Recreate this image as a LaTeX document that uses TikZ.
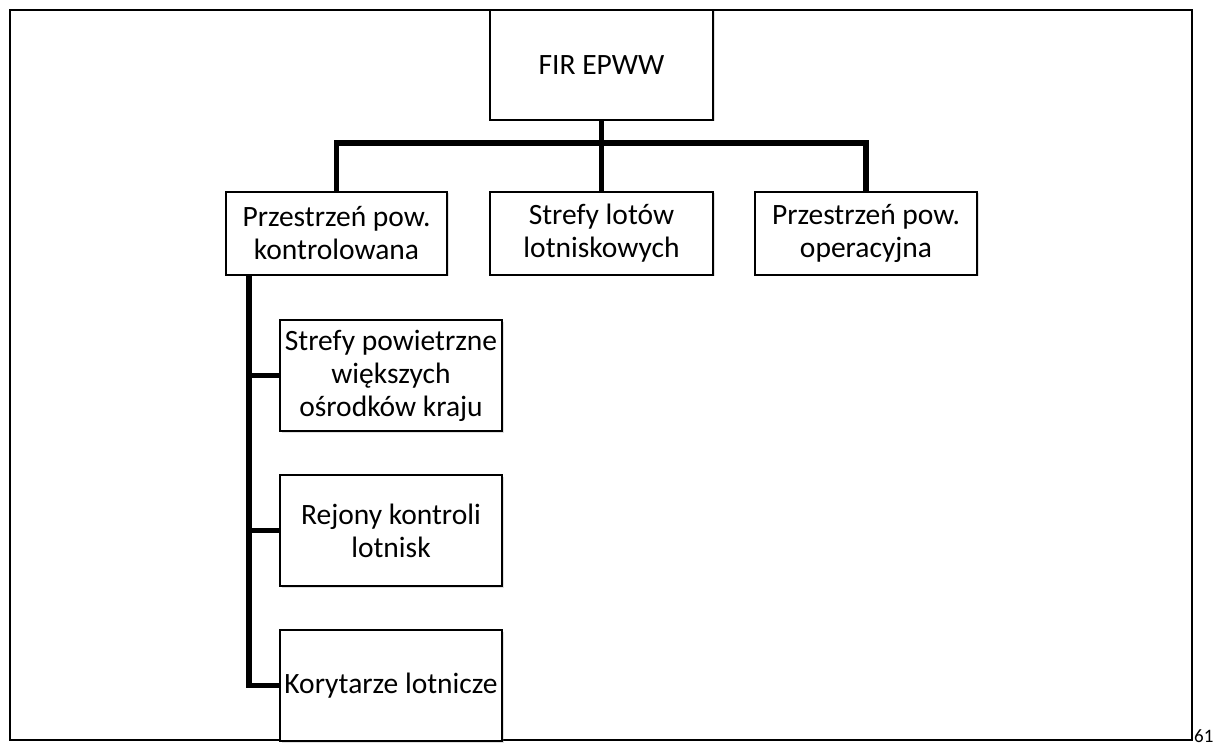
\documentclass[tikz,border=0pt]{standalone}
\usepackage{fontspec}
\setmainfont{Carlito}
\usetikzlibrary{shadows}
\begin{document}
\begin{tikzpicture}[x=1pt,y=-1pt,
  orgbox/.style={draw=black, line width=1.8pt, fill=white, inner sep=0pt,
    align=center, font=\fontsize{29.5}{33}\selectfont,
    drop shadow={opacity=0.25, shadow xshift=1.5pt, shadow yshift=-1.5pt}},
  conn/.style={line width=5.5pt}]
\useasboundingbox (0,0) rectangle (1216,746);
\draw[line width=2.4pt] (10,10) rectangle (1192,740);
\node[anchor=base west, inner sep=0pt, font=\fontsize{19}{22}\selectfont] (pg) at (1194,742.5) {61};
% top
\node[orgbox, minimum width=223pt, minimum height=110pt] (fir) at (601.5,65) {FIR EPWW};
% level 2
\node[orgbox, minimum width=221pt, minimum height=83pt] (a) at (336.5,233.5) {Przestrzeń pow.\\kontrolowana};
\node[orgbox, minimum width=223pt, minimum height=83pt] (b) at (601.5,233.5) {Strefy lotów\\lotniskowych};
\node[orgbox, minimum width=222pt, minimum height=83pt] (c) at (866,233.5) {Przestrzeń pow.\\operacyjna};
% level 3
\node[orgbox, minimum width=222pt, minimum height=111pt] (a1) at (391,375.5) {Strefy powietrzne\\większych\\ośrodków kraju};
\node[orgbox, minimum width=222pt, minimum height=111pt] (a2) at (391,530.5) {Rejony kontroli\\lotnisk};
\node[orgbox, minimum width=222pt, minimum height=111pt] (a3) at (391,685.5) {Korytarze lotnicze};
\coordinate (bar) at (601.5,143);
\coordinate (lx) at (249,0);
% connectors
\draw[conn] (fir.south) -- (bar);
\draw[conn] (a.north) |- (bar) -| (c.north);
\draw[conn] (bar) -- (b.north);
\draw[conn] (a.south -| lx) |- (a3.west);
\draw[conn] (a1.west -| lx) -- (a1.west);
\draw[conn] (a2.west -| lx) -- (a2.west);
\end{tikzpicture}
\end{document}
